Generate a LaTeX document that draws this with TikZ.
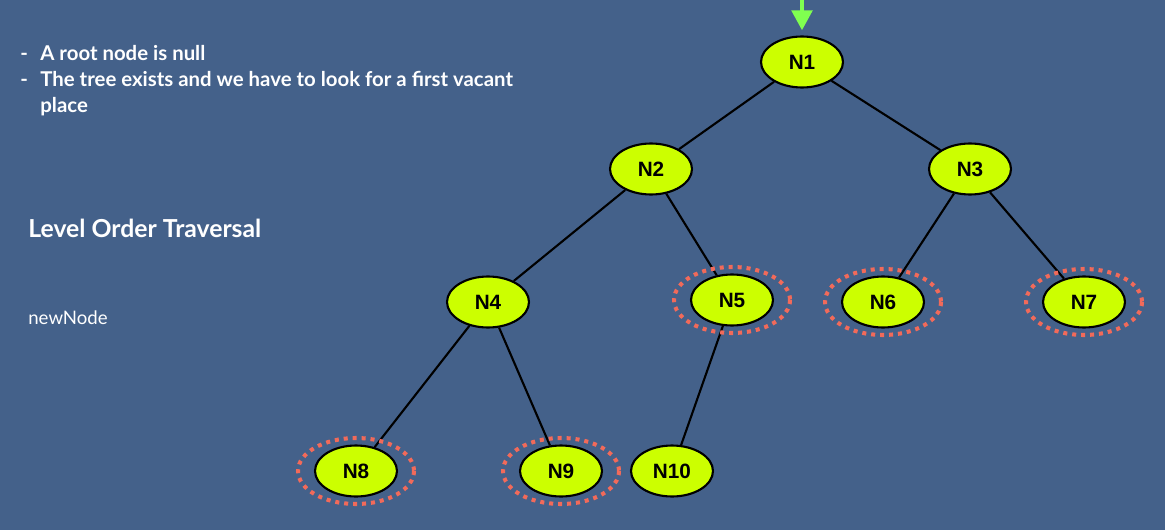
\documentclass[tikz,border=0pt]{standalone}
\usepackage{fontspec}
\setmainfont{Lato}
\newfontfamily\labelfont{Liberation Sans}
\usetikzlibrary{positioning}
\usetikzlibrary{arrows.meta}
\usetikzlibrary{shapes.geometric}

\definecolor{slate}{HTML}{44618A}
\definecolor{lime}{HTML}{CCFF00}
\definecolor{coral}{HTML}{F26A5A}
\definecolor{entrygreen}{HTML}{80FF50}

\tikzset{
  treenode/.style={ellipse, draw=black, line width=1.2pt, fill=lime,
    minimum width=1.64cm, minimum height=1.02cm, inner sep=0pt,
    font=\labelfont\bfseries\fontsize{11.8}{13}\selectfont},
  branch/.style={draw=black, line width=1.2pt},
  vacant/.style={draw=coral, line width=2.3pt, line cap=butt,
    dash pattern=on 2.3pt off 2.8pt},
  info/.style={anchor=base west, inner sep=0pt, text=white},
}

\begin{document}
\begin{tikzpicture}[x=0.02cm,y=-0.02cm]
		% Background and page size
		\fill[slate] (0,0) rectangle (1165,530);
		\useasboundingbox (0,0) rectangle (1165,530);

		% Tree nodes
		\foreach \name/\pos/\label in {n1/{(802,62)}/N1, n2/{(651,169)}/N2, n3/{(970,169)}/N3,
		    n4/{(488,302)}/N4, n5/{(732,300)}/N5, n6/{(883,302)}/N6, n7/{(1084,302)}/N7,
		    n8/{(356,471)}/N8, n9/{(561,471)}/N9, n10/{(672,471)}/N10}
		  \node[treenode] (\name) at \pos {\label};

		% Draw the branches
		\draw[branch] (n1) -- (n2);
		\draw[branch] (n1) -- (n3);
		\draw[branch] (n2) -- (n4);
		\draw[branch] (n2) -- (n5);
		\draw[branch] (n3) -- (n6);
		\draw[branch] (n3) -- (n7);
		\draw[branch] (n4) -- (n8);
		\draw[branch] (n4) -- (n9);
		\draw[branch] (n5) -- (n10);

		% Vacant places
		\foreach \name in {n5, n6, n7, n8, n9}
		  \draw[vacant] (\name.center) ellipse [x radius=58, y radius=33];

		% Entry arrow
		\coordinate (entry) at (802,0);
		\draw[entrygreen, line width=2.8pt, -{Triangle[width=0.4cm,length=0.4cm]}, shorten >=0.1cm] (entry) -- (n1);

		% Text on the left
		\node[info, font=\bfseries\fontsize{11.6}{13}\selectfont] (dash1) at (20,61) {-};
		\node[info, font=\bfseries\fontsize{11.6}{13}\selectfont] (case1) at (40,61) {A root node is null};
		\node[info, font=\bfseries\fontsize{11.6}{13}\selectfont] (dash2) at (20,87) {-};
		\node[info, font=\bfseries\fontsize{11.6}{13}\selectfont] (case2) at (40,87) {The tree exists and we have to look for a first vacant};
		\node[info, font=\bfseries\fontsize{11.6}{13}\selectfont] (case2b) at (40,113) {place};
		\node[info, font=\bfseries\fontsize{14.1}{17}\selectfont] (title) at (28,237) {Level Order Traversal};
		\node[info, font=\fontsize{10.6}{12}\selectfont] (newnode) at (28,324) {newNode};
     \end{tikzpicture}
\end{document}
